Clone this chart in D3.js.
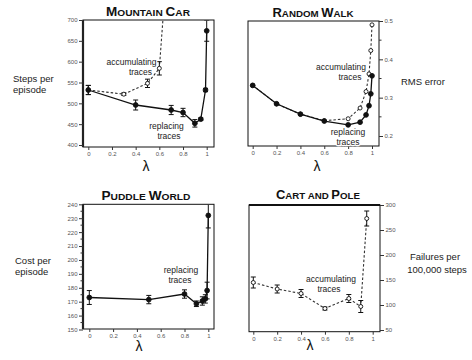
<!DOCTYPE html>
<html><head><meta charset="utf-8">
<script src="https://cdn.jsdelivr.net/npm/d3@7"></script>
<style>
html,body{margin:0;padding:0;background:#fff;}
svg text{font-family:"Liberation Sans",Arial,Helvetica,sans-serif;}
</style></head><body>
<svg id="chart" width="472" height="360"></svg>
<script>
// ---------- DATA ----------
const xTickValues = [0, 0.2, 0.4, 0.6, 0.8, 1];
const xTickLabels = ["0", "0.2", "0.4", "0.6", "0.8", "1"];

// Mountain Car (steps per episode)
const mcYTicks = [400, 450, 500, 550, 600, 650, 700];
const mcReplLambda = [0, 0.4, 0.7, 0.8, 0.9, 0.95, 0.99, 1];
const mcReplSteps  = [532, 496, 484, 478, 452, 462, 532, 674];
const mcReplErr    = [11, 12, 11, 10, 9, 3, 4, 25];
const mcAccLambda  = [0, 0.3, 0.5, 0.6, 0.7];
const mcAccSteps   = [532, 522, 548, 584, 970];
const mcAccErr     = [11, 3, 10, 16, 0];

// Random Walk (RMS error)
const rwYTicks = [0.2, 0.3, 0.4, 0.5];
const rwYMinor = [0.25, 0.35, 0.45];
const rwLambda  = [0, 0.2, 0.4, 0.6, 0.8, 0.9, 0.95, 0.975, 0.99, 1];
const rwReplRMS = [0.332, 0.284, 0.257, 0.239, 0.229, 0.236, 0.255, 0.279, 0.31, 0.357];
const rwAccRMS  = [0.332, 0.284, 0.257, 0.240, 0.245, 0.273, 0.316, 0.362, 0.423, 0.49];

// Puddle World (cost per episode)
const pwYTicks = [150, 160, 170, 180, 190, 200, 210, 220, 230, 240];
const pwYMinor = [155, 165, 175, 185, 195, 205, 215, 225, 235];
const pwLambda = [0, 0.5, 0.8, 0.9, 0.95, 0.975, 0.99, 1];
const pwCost   = [173, 171.5, 175.5, 168.5, 170.5, 172, 178, 232];
const pwErr    = [5, 3, 3, 2, 3, 3, 6, 9];

// Cart and Pole (failures per 100,000 steps)
const cpYTicks   = [50, 100, 150, 200, 250, 300];
const cpLambda   = [0, 0.2, 0.4, 0.6, 0.8, 0.9, 0.95];
const cpFailures = [145, 132, 123, 93, 113, 97, 273];
const cpErr      = [11, 8, 8, 3, 8, 12, 15];

// ---------- DRAW ----------
const svg = d3.select("#chart");
const defs = svg.append("defs");

function titleText(x, y, parts, width) {
  const t = svg.append("text").attr("x", x).attr("y", y).attr("text-anchor", "middle")
    .attr("font-weight", "bold").attr("fill", "#111");
  parts.forEach(p => t.append("tspan").attr("font-size", p[1]).text(p[0]));
  if (width) t.attr("textLength", width).attr("lengthAdjust", "spacingAndGlyphs");
}

function label(x, y, lines, opts = {}) {
  const size = opts.size || 8.5;
  lines.forEach((s, i) => {
    svg.append("text").attr("x", x[i]).attr("y", y[i]).attr("text-anchor", opts.anchor || "middle")
      .attr("font-size", size).attr("fill", opts.fill || "#222")
      .attr("stroke", opts.halo ? "#fff" : "none").attr("stroke-width", opts.halo ? 2.5 : 0)
      .attr("paint-order", "stroke").text(s);
  });
}

function panel(cfg) {
  const b = cfg.box;
  const x = d3.scaleLinear().domain([0, 1]).range(cfg.xr);
  const y = d3.scaleLinear().domain(cfg.yd).range(cfg.yr);
  const g = svg.append("g");
  const cid = "clip-" + cfg.id;
  defs.append("clipPath").attr("id", cid).append("rect")
    .attr("x", b.x0 + 1).attr("y", b.y0 + 0.5).attr("width", b.x1 - b.x0 - 1.5).attr("height", b.y1 - b.y0 - 1);

  // frame
  g.append("rect").attr("x", b.x0).attr("y", b.y0).attr("width", b.x1 - b.x0).attr("height", b.y1 - b.y0)
    .attr("fill", "none").attr("stroke", "#111").attr("stroke-width", 1);
  if (cfg.thick) {
    g.append("line").attr("x1", b.x0).attr("x2", b.x0).attr("y1", b.y0).attr("y2", b.y1)
      .attr("stroke", "#222").attr("stroke-width", 2.2);
  }
  if (cfg.thickTop) {
    g.append("line").attr("x1", b.x0).attr("x2", b.x1).attr("y1", b.y0).attr("y2", b.y0)
      .attr("stroke", "#111").attr("stroke-width", 1.8);
  }

  // x axis
  const xa = g.append("g").attr("transform", `translate(0,${b.y1})`)
    .call(d3.axisBottom(x).tickValues(xTickValues).tickSize(3).tickPadding(2)
      .tickFormat((d, i) => xTickLabels[i]));
  xa.select(".domain").remove();
  xa.selectAll("text").attr("font-size", 6).attr("fill", "#555").attr("font-family", null);
  xa.selectAll("line").attr("stroke", "#333");

  // y axis
  const left = cfg.side === "left";
  const axisFn = left ? d3.axisLeft(y) : d3.axisRight(y);
  const ya = g.append("g").attr("transform", `translate(${left ? b.x0 : b.x1},0)`)
    .call(axisFn.tickValues(cfg.yTicks).tickSize(4).tickPadding(1.5).tickFormat(cfg.fmt || d3.format("")));
  ya.select(".domain").remove();
  ya.selectAll("text").attr("font-size", 6).attr("fill", "#555").attr("font-family", null);
  ya.selectAll("line").attr("stroke", "#333");
  if (cfg.yMinor) {
    g.selectAll(null).data(cfg.yMinor).join("line")
      .attr("x1", left ? b.x0 - 2.5 : b.x1).attr("x2", left ? b.x0 : b.x1 + 2.5)
      .attr("y1", d => y(d)).attr("y2", d => y(d)).attr("stroke", "#333");
  }

  const plot = svg.append("g").attr("clip-path", `url(#${cid})`);
  cfg.series.forEach(s => {
    const pts = s.lam.map((l, i) => ({ l, v: s.val[i], e: s.err ? s.err[i] : 0 }));
    plot.append("path").datum(pts)
      .attr("d", d3.line().x(d => x(d.l)).y(d => y(d.v)))
      .attr("fill", "none").attr("stroke", s.dashed ? "#333" : "#111")
      .attr("stroke-width", s.dashed ? 1.1 : 1.3)
      .attr("stroke-dasharray", s.dashed ? "2.5,2" : null);
    const shown = pts.filter(d => y(d.v) >= b.y0 - 1);
    const eb = shown.filter(d => d.e > 0);
    plot.selectAll(null).data(eb).join("line")
      .attr("x1", d => x(d.l)).attr("x2", d => x(d.l))
      .attr("y1", d => y(d.v - d.e)).attr("y2", d => y(d.v + d.e))
      .attr("stroke", "#111").attr("stroke-width", 1);
    [1, -1].forEach(sg => {
      plot.selectAll(null).data(eb).join("line")
        .attr("x1", d => x(d.l) - 2.5).attr("x2", d => x(d.l) + 2.5)
        .attr("y1", d => y(d.v + sg * d.e)).attr("y2", d => y(d.v + sg * d.e))
        .attr("stroke", "#111").attr("stroke-width", 1);
    });
    plot.selectAll(null).data(shown).join("circle")
      .attr("cx", d => x(d.l)).attr("cy", d => y(d.v)).attr("r", s.filled ? 2.4 : 2.0)
      .attr("fill", s.filled ? "#111" : "#fff").attr("stroke", "#111").attr("stroke-width", 0.9);
  });

  svg.append("text").attr("x", cfg.lamPos[0]).attr("y", cfg.lamPos[1]).attr("text-anchor", "middle")
    .attr("font-size", 14).attr("fill", "#111").text("λ");
}

panel({
  id: "mc", box: { x0: 83, x1: 214, y0: 20, y1: 147 }, xr: [88.3, 206.7],
  yd: [400, 700], yr: [145, 20], yTicks: mcYTicks, side: "left", thick: true,
  series: [
    { lam: mcAccLambda, val: mcAccSteps, err: mcAccErr, dashed: true, filled: false },
    { lam: mcReplLambda, val: mcReplSteps, err: mcReplErr, dashed: false, filled: true }
  ],
  lamPos: [146, 171]
});
panel({
  id: "rw", box: { x0: 248, x1: 379, y0: 21, y1: 146 }, xr: [252.7, 372],
  yd: [0.2, 0.5], yr: [136, 21], yTicks: rwYTicks, yMinor: rwYMinor, side: "right",
  fmt: d3.format(".1f"),
  series: [
    { lam: rwLambda, val: rwAccRMS, dashed: true, filled: false },
    { lam: rwLambda, val: rwReplRMS, dashed: false, filled: true }
  ],
  lamPos: [317, 171]
});
panel({
  id: "pw", box: { x0: 83, x1: 214, y0: 204.3, y1: 329 }, xr: [89.3, 208.3],
  yd: [150, 240], yr: [329.5, 204.3], yTicks: pwYTicks, yMinor: pwYMinor, side: "left", thick: true,
  series: [
    { lam: pwLambda, val: pwCost, err: pwErr, dashed: false, filled: true }
  ],
  lamPos: [139, 351]
});
panel({
  id: "cp", box: { x0: 249, x1: 380, y0: 205, y1: 331.7 }, xr: [253.3, 372.7],
  yd: [50, 300], yr: [330, 205], yTicks: cpYTicks, side: "right", thickTop: true,
  series: [
    { lam: cpLambda, val: cpFailures, err: cpErr, dashed: true, filled: false }
  ],
  lamPos: [310, 350]
});

titleText(148, 16, [["M", 12], ["OUNTAIN ", 9], ["C", 12], ["AR", 9]], 84);
titleText(313, 17, [["R", 12], ["ANDOM ", 9], ["W", 12], ["ALK", 9]], 81);
titleText(146, 200, [["P", 12], ["UDDLE ", 9], ["W", 12], ["ORLD", 9]], 89);
titleText(318, 199, [["C", 12], ["ART AND ", 9], ["P", 12], ["OLE", 9]], 84);

label([13, 13], [82, 93], ["Steps per", "episode"], { anchor: "start", size: 9.5 });
label([401], [85], ["RMS error"], { anchor: "start", size: 9.5 });
label([15, 15], [264, 275], ["Cost per", "episode"], { anchor: "start", size: 9.5 });
label([435, 437], [260, 273], ["Failures per", "100,000 steps"], { size: 9.5 });

label([131.5, 140.5], [65, 75], ["accumulating", "traces"], { halo: true });
label([166.5, 169], [129, 139], ["replacing", "traces"], { halo: true });
label([341, 350], [70, 80], ["accumulating", "traces"], { halo: true });
label([348, 348], [135, 145], ["replacing", "traces"], { halo: true });
label([181, 180], [273, 283], ["replacing", "traces"], { halo: true });
label([331, 329], [282, 292], ["accumulating", "traces"], { halo: true });
</script>
</body></html>
